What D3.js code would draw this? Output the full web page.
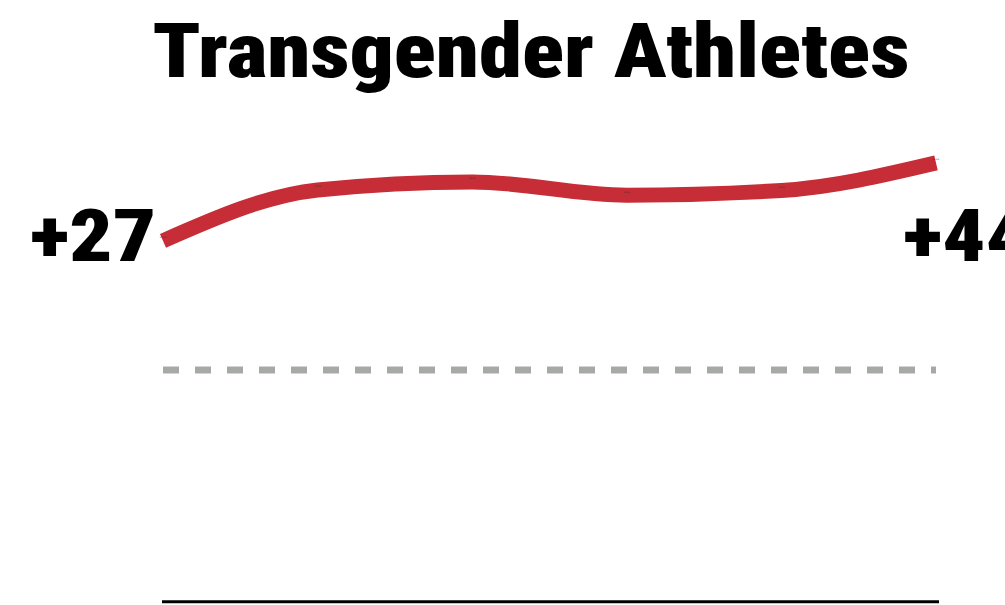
<!DOCTYPE html>
<html>
<head>
<meta charset="utf-8">
<script src="https://cdn.jsdelivr.net/npm/d3@7"></script>
<style>
  html, body { margin: 0; padding: 0; background: #fff; }
  svg { display: block; }
</style>
</head>
<body>
<svg id="chart" width="1005" height="605"></svg>
<script>
const title = "Transgender Athletes";
const categories = ["Wave 1", "Wave 2", "Wave 3", "Wave 4", "Wave 5", "Wave 6"];
const values = [27.2, 37.9, 39.6, 36.8, 37.8, 43.6];
const yDomain = [-48.8, 48.8];
const baselineValue = 0;

const svg = d3.select("#chart");

const x = d3.scalePoint().domain(categories).range([163, 936]);
const y = d3.scaleLinear().domain(yDomain).range([601.8, 138.2]);

const fmtSigned = v => (v >= 0 ? "+" : "") + d3.format(".0f")(v);
const headFont = "'Roboto Condensed','Liberation Sans Narrow','DejaVu Sans Condensed','Roboto',sans-serif";

// title
svg.append("text")
  .attr("x", 531).attr("y", 77)
  .attr("text-anchor", "middle")
  .style("font-family", headFont)
  .style("font-weight", 900)
  .style("font-size", "76px")
  .attr("fill", "#000")
  .attr("textLength", 757)
  .attr("lengthAdjust", "spacingAndGlyphs")
  .text(title);

// bottom axis line
svg.append("line")
  .attr("x1", x.range()[0] - 1).attr("x2", x.range()[1] + 3)
  .attr("y1", y(yDomain[0])).attr("y2", y(yDomain[0]))
  .attr("stroke", "#000").attr("stroke-width", 3);

// zero dashed line
svg.append("line")
  .attr("x1", x.range()[0]).attr("x2", x.range()[1])
  .attr("y1", y(baselineValue)).attr("y2", y(baselineValue))
  .attr("stroke", "#a7a9a7").attr("stroke-width", 7)
  .attr("stroke-dasharray", "16 16");

// main line
const line = d3.line()
  .x((d, i) => x(categories[i]))
  .y(d => y(d))
  .curve(d3.curveMonotoneX);

svg.append("path")
  .datum(values)
  .attr("d", line)
  .attr("fill", "none")
  .attr("stroke", "#c62d36")
  .attr("stroke-width", 15)
  .attr("stroke-linecap", "butt");

// tiny point labels
svg.selectAll("text.pt")
  .data(values)
  .enter().append("text")
  .attr("class", "pt")
  .attr("x", (d, i) => x(categories[i]))
  .attr("y", d => y(d) - 2.5)
  .attr("text-anchor", "middle")
  .style("font-family", "'DejaVu Sans',sans-serif")
  .style("font-size", "2px")
  .attr("fill", "#333")
  .text(d => d3.format(".1f")(d) + "%");

// end labels
svg.append("text")
  .attr("x", 156).attr("y", 261)
  .attr("text-anchor", "end")
  .style("font-family", headFont)
  .style("font-weight", 900)
  .style("font-size", "73px")
  .attr("fill", "#000")
  .attr("textLength", 126)
  .attr("lengthAdjust", "spacingAndGlyphs")
  .text(fmtSigned(values[0]));

svg.append("text")
  .attr("x", 903).attr("y", 261)
  .attr("text-anchor", "start")
  .style("font-family", headFont)
  .style("font-weight", 900)
  .style("font-size", "73px")
  .attr("fill", "#000")
  .attr("textLength", 126)
  .attr("lengthAdjust", "spacingAndGlyphs")
  .text(fmtSigned(values[values.length - 1]));
</script>
</body>
</html>
